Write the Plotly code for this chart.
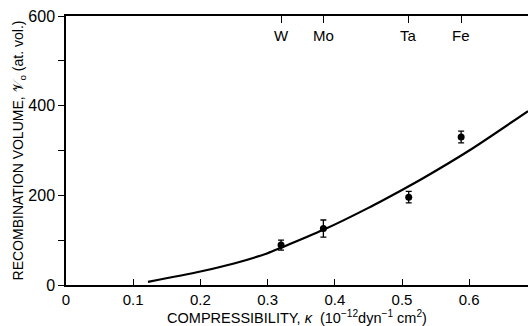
import plotly.graph_objects as go

# Data points (metals)
metals = ["W", "Mo", "Ta", "Fe"]
kappa = [0.32, 0.383, 0.51, 0.588]
volume = [89, 126, 196, 330]
err = [11, 19, 13, 13]

# Fitted curve
curve_k = [0.122, 0.2, 0.25, 0.3, 0.32, 0.383, 0.45, 0.5, 0.53, 0.6, 0.6875]
curve_v = [7, 30, 48, 71, 83, 123, 172, 212, 237, 300, 388]

x_ticks = [0, 0.1, 0.2, 0.3, 0.4, 0.5, 0.6]
x_tick_text = ["0", "0.1", "0.2", "0.3", "0.4", "0.5", "0.6"]
y_ticks = [0, 200, 400, 600]

font = "Liberation Sans, Arial, sans-serif"

fig = go.Figure()
fig.add_trace(go.Scatter(x=curve_k, y=curve_v, mode="lines", line=dict(color="black", width=2.2, shape="spline", smoothing=0.8),
                         showlegend=False, hoverinfo="skip"))
fig.add_trace(go.Scatter(x=kappa, y=volume, mode="markers",
                         marker=dict(color="black", size=7),
                         error_y=dict(type="data", array=err, color="black", thickness=1.3, width=3),
                         showlegend=False))
# top axis markers for metals
fig.add_trace(go.Scatter(x=kappa, y=volume, xaxis="x2", mode="markers", marker=dict(opacity=0),
                         showlegend=False, hoverinfo="skip"))

for m, k in zip(metals, kappa):
    fig.add_annotation(x=k, y=557, text=m, showarrow=False, font=dict(family=font, size=15, color="black"))

fig.update_layout(
    width=528, height=326,
    margin=dict(l=66, r=0, t=16, b=41),
    plot_bgcolor="white", paper_bgcolor="white",
    font=dict(family=font, color="black"),
    xaxis=dict(range=[0, 0.6875], tickvals=x_ticks, ticktext=x_tick_text, ticks="inside", ticklen=6,
               tickcolor="black", showline=True, linecolor="black", linewidth=1.5, showgrid=False,
               zeroline=False, tickfont=dict(size=15),
               title=dict(text="COMPRESSIBILITY, <i>κ</i>  (10<sup>−12</sup>dyn<sup>−1</sup> cm<sup>2</sup>)",
                          font=dict(size=14.5), standoff=2)),
    xaxis2=dict(range=[0, 0.6875], overlaying="x", side="top", tickvals=kappa, ticks="inside", ticklen=7,
                tickcolor="black", showticklabels=False, showline=True, linecolor="black", linewidth=1.5,
                showgrid=False, zeroline=False),
    yaxis=dict(range=[0, 600], tickvals=y_ticks, ticks="outside", ticklen=6, tickcolor="black",
               showline=True, linecolor="black", linewidth=1.5, showgrid=False, zeroline=False,
               tickfont=dict(size=16),
               minor=dict(tickvals=[100, 300, 500], ticks="outside", ticklen=6, tickcolor="black"),
               title=dict(text="RECOMBINATION VOLUME, 𝒱<sub>o</sub> (at. vol.)", font=dict(size=14), standoff=0)),
)

fig.write_html("out.html")
